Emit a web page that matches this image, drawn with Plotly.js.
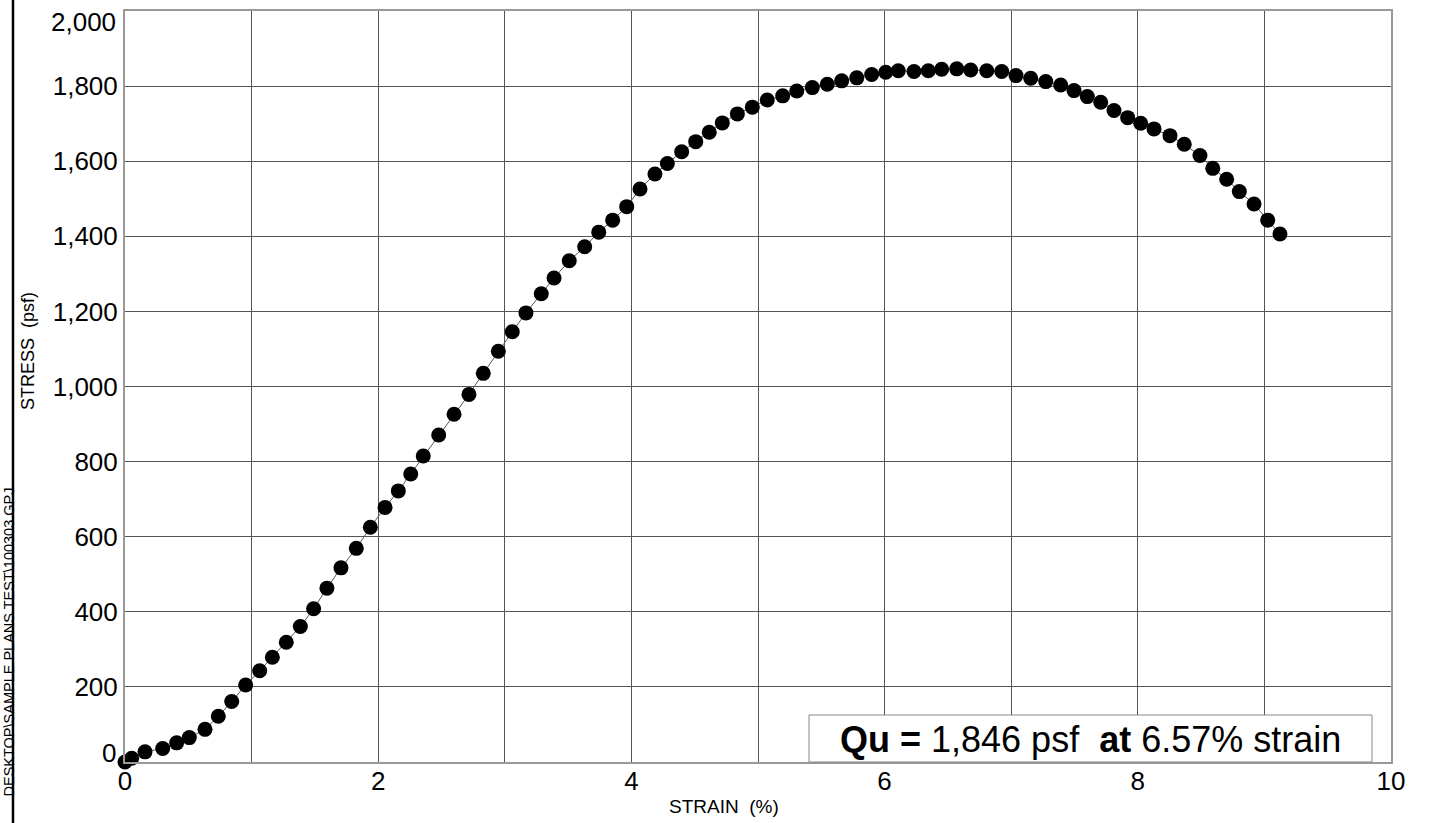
<!DOCTYPE html>
<html>
<head>
<meta charset="utf-8">
<script src="https://cdn.plot.ly/plotly-3.0.1.min.js"></script>
<style>html,body{margin:0;padding:0;background:#fff;}#chart{width:1431px;height:823px;}</style>
</head>
<body>
<div id="chart"></div>
<script>
// Strain (%) and stress (psf)
const strain = [0, 0.053, 0.158, 0.298, 0.408, 0.508, 0.632, 0.737, 0.843, 0.953,
  1.064, 1.164, 1.274, 1.385, 1.490, 1.595, 1.706, 1.827, 1.938,
  2.054, 2.159, 2.257, 2.356, 2.478, 2.599, 2.717, 2.830, 2.949, 3.059, 3.167, 3.288,
  3.389, 3.509, 3.631, 3.742, 3.852, 3.963, 4.068,
  4.186, 4.284, 4.397, 4.508, 4.615, 4.718, 4.837, 4.955, 5.073, 5.195, 5.306, 5.429,
  5.547, 5.661, 5.780, 5.898, 6.009, 6.108, 6.232, 6.345, 6.451, 6.570, 6.680, 6.807,
  6.925, 7.038, 7.154, 7.273, 7.391, 7.496, 7.601, 7.707, 7.812, 7.920, 8.023, 8.128,
  8.254, 8.367, 8.491, 8.592, 8.702, 8.802, 8.918, 9.026, 9.123];
const stress = [0, 10, 27, 36, 51, 65, 87, 122, 161, 205,
  243, 279, 319, 361, 408, 463, 517, 569, 625,
  678, 722, 767, 815, 871, 926, 979, 1035, 1094, 1146, 1196, 1247,
  1289, 1335, 1372, 1411, 1443, 1479, 1526,
  1566, 1594, 1625, 1652, 1677, 1702, 1726, 1744, 1763, 1774, 1787, 1796,
  1805, 1814, 1822, 1831, 1837, 1841, 1839, 1841, 1845, 1846, 1843, 1841,
  1839, 1828, 1821, 1812, 1803, 1788, 1772, 1757, 1735, 1716, 1701, 1686,
  1668, 1645, 1615, 1581, 1552, 1519, 1486, 1443, 1406];
const xTickVals = [0, 2, 4, 6, 8, 10];
const xTickText = ['0', '2', '4', '6', '8', '10'];
const yTickVals = [0, 200, 400, 600, 800, 1000, 1200, 1400, 1600, 1800, 2000];
const yTickText = ['0', '200', '400', '600', '800', '1,000', '1,200', '1,400', '1,600', '1,800', '2,000'];
const xTitle = 'STRAIN\u00a0\u00a0(%)';
const yTitle = 'STRESS\u00a0\u00a0(psf)';
const resultText = '<b>Qu =</b> 1,846 psf\u00a0\u00a0<b>at</b> 6.57% strain';
const pathText = 'DESKTOP\\SAMPLE PLANS TEST\\100303.GPJ';

const FONT = 'Liberation Sans, Arial, Helvetica, sans-serif';
const TICKSIZE = 26;
const W = 1431, H = 823;
const L = 125, R = 40, T = 11, B = 61;
const pw = W - L - R, ph = H - T - B;
const px = v => (v - L) / pw;
const py = v => (H - B - v) / ph;

// the end labels of the y axis sit inward in the reference, so they are drawn as shifted labels
const yAxisText = yTickText.map((t, i) => (i === 0 || i === yTickText.length - 1) ? '' : t);
const edgeLabels = [
  {i: 0, shift: 9},
  {i: yTickVals.length - 1, shift: -11}
].map(e => ({
  text: yTickText[e.i], xref: 'paper', yref: 'y', x: 0, y: yTickVals[e.i],
  xanchor: 'right', yanchor: 'middle', xshift: -7, yshift: e.shift, showarrow: false,
  font: {family: FONT, size: TICKSIZE, color: '#000'}
}));

const trace = {
  x: strain, y: stress, type: 'scatter', mode: 'lines+markers',
  line: {color: '#555555', width: 1},
  marker: {color: '#000000', size: 15},
  cliponaxis: false, hoverinfo: 'x+y'
};

const layout = {
  width: W, height: H,
  margin: {l: L, r: R, t: T, b: B, pad: 0},
  paper_bgcolor: '#ffffff', plot_bgcolor: '#ffffff',
  showlegend: false,
  font: {family: FONT, color: '#000000'},
  xaxis: {
    range: [0, 10], tickmode: 'array', tickvals: xTickVals, ticktext: xTickText,
    showgrid: true, gridcolor: '#555555', gridwidth: 1,
    minor: {dtick: 1, tick0: 0, showgrid: true, gridcolor: '#555555', gridwidth: 1},
    zeroline: false, showline: true, linecolor: '#999999', linewidth: 2, mirror: true,
    ticks: '', ticklabelstandoff: -5, ticklabeloverflow: 'allow',
    tickfont: {family: FONT, size: TICKSIZE, color: '#000'}, fixedrange: true
  },
  yaxis: {
    range: [0, 2000], tickmode: 'array', tickvals: yTickVals, ticktext: yAxisText,
    showgrid: true, gridcolor: '#555555', gridwidth: 1,
    zeroline: false, showline: true, linecolor: '#999999', linewidth: 2, mirror: true,
    ticks: '', ticklabeloverflow: 'allow',
    tickfont: {family: FONT, size: TICKSIZE, color: '#000'}, fixedrange: true
  },
  shapes: [
    {type: 'rect', xref: 'paper', yref: 'paper', x0: px(809), x1: px(1372), y0: py(762), y1: py(715),
     fillcolor: '#ffffff', line: {color: '#888888', width: 1}, layer: 'above'},
    {type: 'line', xref: 'paper', yref: 'paper', x0: px(13), x1: px(13), y0: py(H + 5), y1: py(-5),
     line: {color: '#000000', width: 2.5}}
  ],
  annotations: [
    {text: resultText, xref: 'paper', yref: 'paper', x: px(1090), y: py(739),
     xanchor: 'center', yanchor: 'middle', showarrow: false,
     font: {family: FONT, size: 36, color: '#000'}},
    {text: xTitle, xref: 'paper', yref: 'paper', x: px(724), y: py(806),
     xanchor: 'center', yanchor: 'middle', showarrow: false,
     font: {family: FONT, size: 19, color: '#000'}},
    {text: yTitle, xref: 'paper', yref: 'paper', x: px(28), y: py(351), textangle: -90,
     xanchor: 'center', yanchor: 'middle', showarrow: false,
     font: {family: FONT, size: 18, color: '#000'}},
    {text: pathText, xref: 'paper', yref: 'paper', x: px(8), y: py(486), textangle: -90,
     xanchor: 'center', yanchor: 'top', showarrow: false,
     font: {family: FONT, size: 14.5, color: '#000'}}
  ].concat(edgeLabels)
};

Plotly.newPlot('chart', [trace], layout, {displayModeBar: false, staticPlot: true});
</script>
</body>
</html>
